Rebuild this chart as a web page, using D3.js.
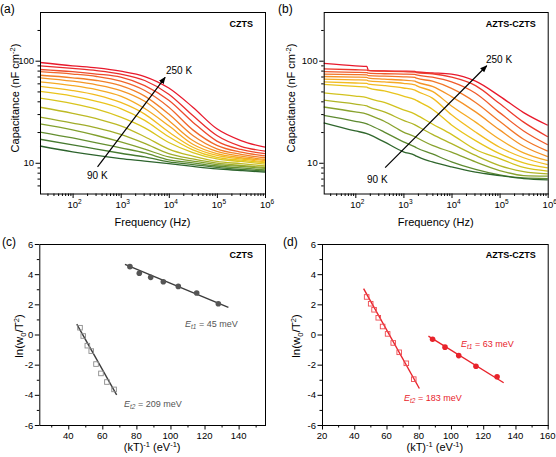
<!DOCTYPE html>
<html><head><meta charset="utf-8">
<script src="https://cdn.jsdelivr.net/npm/d3@7"></script>
<style>
body{margin:0;background:#fff}
svg{display:block}
text{font-family:"Liberation Sans",Arial,Helvetica,sans-serif;fill:#000}
</style></head>
<body><svg id="chart" width="556" height="457"></svg>
<script>
// ---------- DATA ----------
// Panel (a) CZTS: frequency grid (Hz) and capacitance curves (nF cm^-2), 250 K (top) ... 90 K (bottom)
const freqA = [21, 100, 316, 1000, 3160, 10000, 31600, 100000, 316000, 1000000];
const capA = [
  [96, 89, 85, 79, 70, 54, 35, 21.5, 16.5, 14.2],
  [89, 84, 80, 74, 64, 47, 29, 18.5, 14.5, 13.0],
  [82, 78, 74, 69, 57, 41, 25, 16.3, 13.5, 12.3],
  [78, 74, 70, 63, 51, 35, 21, 14.8, 12.7, 11.7],
  [72, 68, 64, 57, 45, 30, 18.5, 13.7, 12.1, 11.2],
  [68, 63, 58, 51, 40, 26, 16.5, 12.9, 11.6, 10.8],
  [62, 57, 52, 45, 34, 23, 15.2, 12.3, 11.2, 10.5],
  [56, 51, 46, 39, 30, 20, 14.2, 11.8, 10.9, 10.2],
  [50, 45, 40, 34, 26, 18, 13.4, 11.3, 10.6, 10.0],
  [43, 38, 33.5, 28, 22, 15.8, 12.6, 10.9, 10.3, 9.7],
  [35, 30.5, 27, 23, 18, 13.6, 11.6, 10.3, 9.8, 9.3],
  [28, 24.5, 22, 19, 15.5, 12.3, 10.9, 9.9, 9.4, 9.0],
  [24, 21, 18.5, 16, 13.6, 11.4, 10.4, 9.6, 9.2, 8.8],
  [20, 17.5, 15.7, 14, 12.5, 10.7, 10.0, 9.3, 8.9, 8.5],
  [17, 15, 13.6, 12.4, 11.4, 10.2, 9.6, 9.0, 8.6, 8.3],
  [14.6, 12.8, 11.8, 11.0, 10.4, 9.8, 9.2, 8.7, 8.4, 8.1]
];
// Panel (b) AZTS-CZTS
const freqB = [22, 100, 174, 186, 400, 1000, 1740, 1860, 4000, 10000, 31600, 100000, 316000, 1000000];
const capB = [
  [94, 89, 88, 80.5, 79.5, 79, 78.5, 77.5, 76, 74, 63, 45, 31, 23.3],
  [83, 81.5, 81, 80, 79, 78, 77.5, 76.5, 74.5, 69, 57, 38, 25, 18],
  [78, 77, 76.5, 75.5, 74.5, 74, 73.5, 72.5, 69, 62, 48, 31, 20.5, 15],
  [74, 73, 72.5, 71.5, 70.5, 69.5, 68.5, 67.5, 63, 53.5, 39, 25.5, 17, 13],
  [70, 69, 68.5, 67.5, 66, 64.5, 63, 62, 56, 44.5, 31.5, 21, 14.5, 11.5],
  [66, 65, 64.5, 63.5, 62, 60, 58, 57, 50, 36, 25, 17, 12.5, 10.5],
  [62, 60.5, 60, 59, 57, 54, 51.5, 50.6, 43, 29.5, 20, 14.2, 11.2, 9.6],
  [58.5, 56, 55, 54.2, 50.5, 45, 41.5, 40.8, 33.5, 23.5, 16.5, 12.3, 10, 8.9],
  [48.4, 45, 43.5, 42.9, 39, 33, 30, 29.5, 24, 19, 13.5, 11, 9, 8.3],
  [41, 37.5, 36, 35.5, 31.5, 26, 23.5, 23.1, 19, 15.4, 11.8, 9.4, 8.2, 7.8],
  [35.2, 31.5, 30, 29.6, 25.5, 20, 18, 17.7, 14.8, 12.7, 10.2, 8.4, 7.5, 7.4],
  [29.2, 25.5, 24, 23.7, 20, 16, 14.3, 14.05, 12.2, 10.2, 8.6, 7.6, 7.1, 7.0],
  [24.6, 20.5, 19.3, 19.05, 16, 12.8, 11.8, 11.6, 10.2, 9.1, 8.1, 7.5, 7.0, 6.8]
];
const colorsA = ["#e8192c","#ea2c2c","#ee4a2b","#f0662a","#f27f28","#f49626","#f5aa24","#f2bb20",
                 "#eac41c","#d8c41e","#bcb924","#9fac2a","#82a02e","#648f30","#467a30","#2c632c"];
const colorsB = ["#e8192c","#ec3a2c","#f05a2a","#f27628","#f49226","#f5aa24","#f2bc20","#e8c41c",
                 "#d2c21e","#b0b526","#88a22e","#5e8a30","#2f662c"];
// Arrows [fStart, CStart, fEnd, CEnd]
const arrowA = [330, 9.1, 8400, 68.7];
const arrowB = [417, 8.96, 54000, 89.3];

// Panel (c) CZTS Arrhenius
const cT1x = [76.2, 81.7, 88.4, 95.8, 104.6, 115.4, 128.1];
const cT1y = [4.5, 4.06, 3.79, 3.5, 3.19, 2.75, 2.04];
const cT2x = [46.9, 48.8, 51.2, 53.5, 56.3, 59.2, 62.7, 66.9];
const cT2y = [0.45, -0.1, -0.74, -1.1, -1.96, -2.58, -3.15, -3.64];
const cFit1 = [[73.3, 4.65], [134, 1.8]];
const cFit2 = [[45.0, 0.69], [68.4, -4.0]];
// Panel (d) AZTS-CZTS Arrhenius
const dT1x = [88.6, 96.3, 104.8, 115.5, 128.6];
const dT1y = [-0.31, -0.84, -1.4, -2.1, -2.8];
const dT2x = [47.7, 50.2, 52.3, 54.9, 57.6, 60.7, 64.2, 67.9, 72.3, 76.9];
const dT2y = [2.49, 2.04, 1.64, 1.11, 0.53, 0.04, -0.56, -1.18, -1.91, -2.96];
const dFit1 = [[86, -0.11], [132.7, -3.2]];
const dFit2 = [[45.8, 3.04], [80.4, -3.58]];

const yTicksCD = [-6, -4, -2, 0, 2, 4, 6];
const xTicksC = [40, 60, 80, 100, 120, 140];
const xTicksD = [20, 40, 60, 80, 100, 120, 140, 160];

// ---------- DRAW ----------
const svg = d3.select("#chart");
const defs = svg.append("defs");
defs.append("marker").attr("id","ah").attr("viewBox","0 0 10 10").attr("refX",9).attr("refY",5)
  .attr("markerWidth",6).attr("markerHeight",6).attr("orient","auto")
  .append("path").attr("d","M0,1 L10,5 L0,9 z").attr("fill","#000");

function ticks(g, x, y, xMaj, xMin, yMaj, yMin){
  const yb = y.range()[0], xl = x.range()[0];
  const rm = s => s.select(".domain").remove();
  g.append("g").attr("transform",`translate(0,${yb})`).call(d3.axisBottom(x).tickValues(xMaj).tickSize(4.5).tickFormat("")).call(rm);
  g.append("g").attr("transform",`translate(0,${yb})`).call(d3.axisBottom(x).tickValues(xMin).tickSize(2.5).tickFormat("")).call(rm);
  g.append("g").attr("transform",`translate(${xl},0)`).call(d3.axisLeft(y).tickValues(yMaj).tickSize(4.5).tickFormat("")).call(rm);
  g.append("g").attr("transform",`translate(${xl},0)`).call(d3.axisLeft(y).tickValues(yMin).tickSize(2.5).tickFormat("")).call(rm);
  const [x0,x1] = x.range(), [y0,y1] = y.range();
  g.append("rect").attr("x",x0+0.5).attr("y",y1+0.5).attr("width",x1-x0).attr("height",y0-y1)
    .attr("fill","none").attr("stroke","#000").attr("stroke-width",1);
}

function logMinors(lo, hi){
  const out=[];
  for(let e=0;e<=7;e++) for(let k=2;k<=9;k++){const v=k*Math.pow(10,e); if(v>lo*1.001&&v<hi*0.999) out.push(v);}
  return out;
}

function capPanel(opt){
  const g = svg.append("g");
  const x = d3.scaleLog().domain([opt.fmin,1e6]).range([opt.x0,opt.x1]);
  const y = d3.scaleLog().domain([5,300]).range([193.5,12]);
  const line = d3.line().x((d,i)=>x(opt.freq[i])).y(d=>y(d)).curve(d3.curveMonotoneX);
  g.append("g").selectAll("path").data(opt.caps).join("path")
    .attr("d",d=>line(d)).attr("fill","none").attr("stroke",(d,i)=>opt.colors[i]).attr("stroke-width",1.3);
  ticks(g, x, y, [1e2,1e3,1e4,1e5,1e6], logMinors(opt.fmin,1e6), [10,100], logMinors(5,300));
  [2,3,4,5,6].forEach(n=>{
    const t = g.append("text").attr("x",x(Math.pow(10,n))+2).attr("y",207.5).attr("text-anchor","middle").attr("font-size",9.5);
    t.append("tspan").text("10");
    t.append("tspan").attr("dy",-4).attr("font-size",6.5).text(n);
  });
  [10,100].forEach(v=>{
    g.append("text").attr("x",opt.x0-6).attr("y",y(v)+3.5).attr("text-anchor","end").attr("font-size",9.5).text(v);
  });
  g.append("text").attr("x",(opt.x0+opt.x1)/2).attr("y",226).attr("text-anchor","middle").attr("font-size",11).text("Frequency (Hz)");
  const yt = g.append("text").attr("transform",`translate(${opt.ytx},98) rotate(-90)`).attr("text-anchor","middle").attr("font-size",11);
  yt.append("tspan").text("Capacitance (nF cm");
  yt.append("tspan").attr("dy",-4).attr("font-size",7.5).text("-2");
  yt.append("tspan").attr("dy",4).text(")");
  g.append("text").attr("x",opt.x1-12).attr("y",26.5).attr("text-anchor","end").attr("font-size",9).attr("font-weight","bold").text(opt.name);
  const a = opt.arrow;
  g.append("line").attr("x1",x(a[0])).attr("y1",y(a[1])).attr("x2",x(a[2])).attr("y2",y(a[3]))
    .attr("stroke","#000").attr("stroke-width",1.2).attr("marker-end","url(#ah)");
  g.append("text").attr("x",opt.hiLab[0]).attr("y",opt.hiLab[1]).attr("font-size",10).text("250 K");
  g.append("text").attr("x",opt.loLab[0]).attr("y",opt.loLab[1]).attr("font-size",10).text("90 K");
  g.append("text").attr("x",opt.pl[0]).attr("y",opt.pl[1]).attr("font-size",12).text(opt.plabel);
}

capPanel({freq:freqA,caps:capA,colors:colorsA,fmin:21,x0:40,x1:265,ytx:19,name:"CZTS",
  arrow:arrowA,hiLab:[166,74],loLab:[87,179],pl:[0,13],plabel:"(a)"});
capPanel({freq:freqB,caps:capB,colors:colorsB,fmin:22,x0:323.7,x1:547.7,ytx:295,name:"AZTS-CZTS",
  arrow:arrowB,hiLab:[486,63],loLab:[367,182.5],pl:[278,13],plabel:"(b)"});

function etext(g, xp, yp, sub, rest, col){
  const t = g.append("text").attr("x",xp).attr("y",yp).attr("font-size",9).style("fill",col);
  t.append("tspan").attr("font-style","italic").text("E");
  t.append("tspan").attr("font-style","italic").attr("font-size",6.5).attr("dy",2).text(sub);
  t.append("tspan").attr("dy",-2).text(rest);
}

function arrPanel(opt){
  const g = svg.append("g");
  const x = d3.scaleLinear().domain(opt.xdom).range([opt.x0,opt.x1]);
  const y = d3.scaleLinear().domain([-6,6]).range([425,244]);
  const fl = d3.line().x(d=>x(d[0])).y(d=>y(d[1]));
  [opt.fit1,opt.fit2].forEach(f=>{
    g.append("path").attr("d",fl(f)).attr("fill","none").attr("stroke",opt.lineCol).attr("stroke-width",1.4);
  });
  g.append("g").selectAll("rect").data(opt.t2x).join("rect")
    .attr("x",(d)=>x(d)-2.3).attr("y",(d,i)=>y(opt.t2y[i])-2.3).attr("width",4.6).attr("height",4.6)
    .attr("fill","none").attr("stroke",opt.sqCol).attr("stroke-width",0.9);
  g.append("g").selectAll("circle").data(opt.t1x).join("circle")
    .attr("cx",d=>x(d)).attr("cy",(d,i)=>y(opt.t1y[i])).attr("r",2.8).attr("fill",opt.dotCol);
  const xMin = d3.range(10,170,20).filter(v=>v>opt.xdom[0]&&v<opt.xdom[1]);
  ticks(g, x, y, opt.xt, xMin, yTicksCD, [-5,-3,-1,1,3,5]);
  opt.xt.forEach(v=>{
    g.append("text").attr("x",x(v)).attr("y",439).attr("text-anchor","middle").attr("font-size",9.5).text(v);
  });
  yTicksCD.forEach(v=>{
    g.append("text").attr("x",opt.x0-6).attr("y",y(v)+3.5).attr("text-anchor","end").attr("font-size",9.5).text(v);
  });
  const xt = g.append("text").attr("x",(opt.x0+opt.x1)/2).attr("y",451).attr("text-anchor","middle").attr("font-size",11);
  xt.append("tspan").text("(kT)");
  xt.append("tspan").attr("dy",-4).attr("font-size",7.5).text("-1");
  xt.append("tspan").attr("dy",4).text(" (eV");
  xt.append("tspan").attr("dy",-4).attr("font-size",7.5).text("-1");
  xt.append("tspan").attr("dy",4).text(")");
  const yt = g.append("text").attr("transform",`translate(${opt.ytx},336) rotate(-90)`).attr("text-anchor","middle").attr("font-size",11.5);
  yt.append("tspan").text("ln(w");
  yt.append("tspan").attr("dy",2.5).attr("font-size",7.5).text("0");
  yt.append("tspan").attr("dy",-2.5).text("/T");
  yt.append("tspan").attr("dy",-4).attr("font-size",7.5).text("2");
  yt.append("tspan").attr("dy",4).text(")");
  g.append("text").attr("x",opt.x1-12).attr("y",257.5).attr("text-anchor","end").attr("font-size",9).attr("font-weight","bold").text(opt.name);
  etext(g, opt.e1[0], opt.e1[1], "t1", opt.e1[2], opt.txtCol);
  etext(g, opt.e2[0], opt.e2[1], "t2", opt.e2[2], opt.txtCol);
  g.append("text").attr("x",opt.pl[0]).attr("y",opt.pl[1]).attr("font-size",12).text(opt.plabel);
}

arrPanel({xdom:[23,155.5],x0:39.3,x1:265,xt:xTicksC,t1x:cT1x,t1y:cT1y,t2x:cT2x,t2y:cT2y,fit1:cFit1,fit2:cFit2,
  lineCol:"#3c3c3c",sqCol:"#8c8c8c",dotCol:"#555",txtCol:"#555",ytx:23,name:"CZTS",
  e1:[185,326.5," = 45 meV"],e2:[124,407," = 209 meV"],pl:[2,246],plabel:"(c)"});
arrPanel({xdom:[20,160],x0:322,x1:547.7,xt:xTicksD,t1x:dT1x,t1y:dT1y,t2x:dT2x,t2y:dT2y,fit1:dFit1,fit2:dFit2,
  lineCol:"#e8232b",sqCol:"#ee4a50",dotCol:"#e8232b",txtCol:"#e8232b",ytx:300,name:"AZTS-CZTS",
  e1:[461,346.5," = 63 meV"],e2:[404,401," = 183 meV"],pl:[283,246],plabel:"(d)"});
</script></body></html>
